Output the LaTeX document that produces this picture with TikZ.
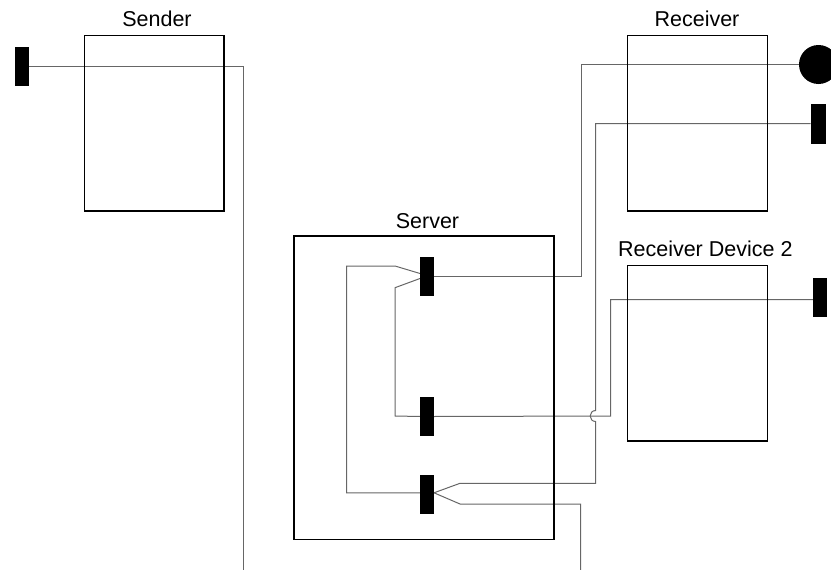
\documentclass[tikz,border=0pt]{standalone}
\usepackage{fontspec}
\setmainfont{Liberation Sans}
\usetikzlibrary{calc,backgrounds}
\begin{document}
\begin{tikzpicture}[x=1pt,y=-1pt,
  frame/.style={draw=black,line width=1.3pt,inner sep=0pt,outer sep=0pt},
  port/.style={fill=black,inner sep=0pt,outer sep=0pt,minimum width=14pt,minimum height=39pt},
  wire/.style={draw=black!60,line width=1pt},
  title/.style={anchor=base,font=\fontsize{21.5}{25}\selectfont,inner sep=0pt}]
\useasboundingbox (0,0) rectangle (831,570);

% device frames
\node[frame,minimum width=139.3pt,minimum height=175.3pt] (sender) at (154.3,123.3) {};
\node[frame,minimum width=140pt,minimum height=175.3pt] (receiver) at (697.3,123.3) {};
\node[frame,minimum width=260pt,minimum height=303.3pt] (server) at (424,387.7) {};
\node[frame,minimum width=139.6pt,minimum height=175.3pt] (device) at (697.5,353.3) {};

% titles
\node[title] (senderlabel) at (157,26.7) {Sender};
\node[title] (receiverlabel) at (697,26.7) {Receiver};
\node[title] (serverlabel) at (427.5,228.3) {Server};
\node[title] (devicelabel) at (705.3,256.7) {Receiver Device 2};

% ports
\node[port] (sp) at (22,66) {};
\node[circle,fill=black,inner sep=0pt,outer sep=0pt,minimum size=39pt] (rc) at (818.5,64.5) {};
\node[port,minimum width=15pt,minimum height=40pt] (rp) at (818.2,123.5) {};
\node[port] (dp) at (820,297.5) {};
\node[port] (st) at (427,276.5) {};
\node[port] (sm) at (427,416.5) {};
\node[port] (sb) at (427,494.8) {};

% open wire ends at the bottom edge
\coordinate (sendEnd) at (243.7,570);
\coordinate (outEnd) at (580.7,570);

\begin{scope}[on background layer]
  % sender output running down
  \draw[wire] (sp.east) -| (sendEnd);
  % receiver circle to top server port
  \draw[wire] (rc.west) -| ($(st.east)+(147.7,0)$) -- (st.east);
  % receiver port to lower server port, hopping over the crossing wire
  \draw[wire] (rp.west) -| (595.7,410.5)
    .. controls (588.4,410.5) and (588.4,421.5) .. (595.7,421.5)
    |- (460,483.3) -- ($(sb.east)+(0,-2)$);
  % device port through middle server port back to top port
  \draw[wire] ($(dp.west)+(0,2)$) -| (610.7,416) -- (sm.east) -- (sm.west)
    -- (395,416) -- (395,287.7) -- ($(st.west)+(0,2)$);
  % top port loop to lower port
  \draw[wire] ($(st.west)+(0,-3)$) -- (395,266) -- (346.7,266)
    |- ($(sb.west)+(0,-2)$);
  % lower port output running down
  \draw[wire] ($(sb.east)+(0,-2)$) -- (460,504) -| (outEnd);
\end{scope}
\end{tikzpicture}
\end{document}
